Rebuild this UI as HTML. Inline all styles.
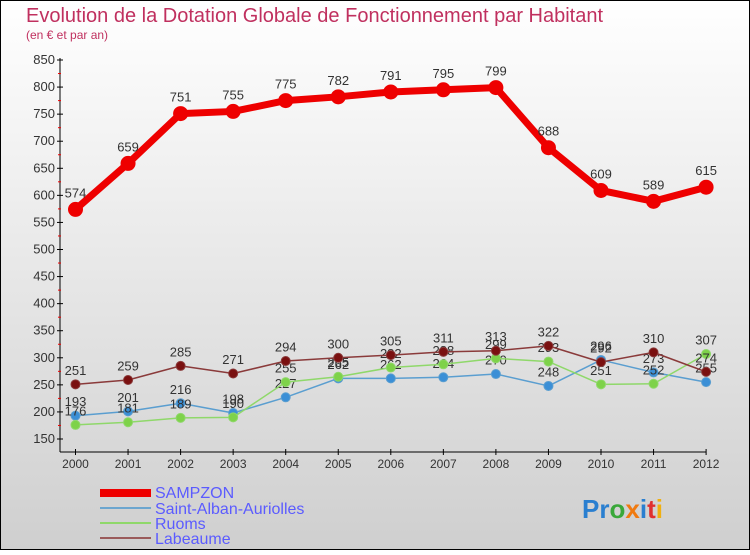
<!DOCTYPE html>
<html><head><meta charset="utf-8"><style>
body{margin:0}
svg text{font-family:"Liberation Sans","DejaVu Sans",sans-serif}
</style></head><body>
<svg id="c" width="750" height="550" xmlns="http://www.w3.org/2000/svg">
<defs><linearGradient id="bg" x1="0" y1="0" x2="0" y2="1"><stop offset="0" stop-color="#ffffff"/><stop offset="1" stop-color="#cfcfcf"/></linearGradient></defs>
<rect x="0.5" y="0.5" width="749" height="549" fill="url(#bg)" stroke="#000"/>
<text x="26" y="22" font-size="20" fill="#c0305f">Evolution de la Dotation Globale de Fonctionnement par Habitant</text>
<text x="26" y="39" font-size="12" fill="#c0305f">(en € et par an)</text>
<g id="axes"></g><g id="series"></g>
<g>
<rect x="100" y="489" width="51" height="8" fill="#e00"/>
<text x="155" y="498" font-size="16" fill="#5b5bff">SAMPZON</text>
<line x1="100" y1="508" x2="151" y2="508" stroke="#6ca6cf" stroke-width="2"/>
<text x="155" y="514" font-size="16" fill="#5b5bff">Saint-Alban-Auriolles</text>
<line x1="100" y1="523" x2="151" y2="523" stroke="#8fd86a" stroke-width="2"/>
<text x="155" y="529" font-size="16" fill="#5b5bff">Ruoms</text>
<line x1="100" y1="538" x2="151" y2="538" stroke="#9a5a5a" stroke-width="2"/>
<text x="155" y="544" font-size="16" fill="#5b5bff">Labeaume</text>
</g>
<text x="582" y="518" font-size="26" font-weight="bold"><tspan fill="#2a7fd0">Pr</tspan><tspan fill="#3aa83a">o</tspan><tspan fill="#f07a10">x</tspan><tspan fill="#2a7fd0">i</tspan><tspan fill="#e03030">t</tspan><tspan fill="#f0b010">i</tspan></text>
</svg>
<script>
const years=[2000,2001,2002,2003,2004,2005,2006,2007,2008,2009,2010,2011,2012];
const sampzon=[574,659,751,755,775,782,791,795,799,688,609,589,615];
const saintAlban=[193,201,216,198,227,262,262,264,270,248,296,273,255];
const ruoms=[176,181,189,190,255,265,282,288,299,293,251,252,307];
const labeaume=[251,259,285,271,294,300,305,311,313,322,292,310,274];
const yTicks=[150,200,250,300,350,400,450,500,550,600,650,700,750,800,850];
const NS="http://www.w3.org/2000/svg";
const xS=i=>75.5+i*52.55;
const yS=v=>439-(v-150)*379/700;
function mk(t,a,p){const e=document.createElementNS(NS,t);for(const k in a)e.setAttribute(k,a[k]);p.appendChild(e);return e;}
const ax=document.getElementById('axes');
let l=mk('line',{x1:60,y1:58,x2:60,y2:452,stroke:'#000'},ax);


l=mk('line',{x1:60,y1:452,x2:706,y2:452,stroke:'#000'},ax);


yTicks.forEach((v,i)=>{
 mk('line',{x1:57,y1:yS(v),x2:63,y2:yS(v),stroke:'#000'},ax);
 if(i<yTicks.length-1) mk('line',{x1:58,y1:yS(v+25),x2:61,y2:yS(v+25),stroke:'#e00'},ax);
 const t=mk('text',{x:55,y:yS(v)+4,'font-size':13,fill:'#333','text-anchor':'end'},ax);
 t.textContent=v;
 
 
});
years.forEach((y,i)=>{
 mk('line',{x1:xS(i),y1:449,x2:xS(i),y2:455,stroke:'#000'},ax);
 const t=mk('text',{x:xS(i),y:468,'font-size':12,fill:'#333','text-anchor':'middle'},ax);
 t.textContent=y;
 
 
});
const sg=document.getElementById('series');
function draw(data,name,color,w,r,fill){
 const g=mk('g',{},sg);
 
 
 mk('polyline',{points:data.map((v,i)=>xS(i)+','+yS(v)).join(' '),fill:'none',stroke:color,'stroke-width':w,'stroke-linejoin':'round'},g);
 data.forEach((v,i)=>{
  const c=mk('circle',{cx:xS(i),cy:yS(v),r:r,fill:fill,stroke:color,'stroke-width':1},g);
  
  
  const t=mk('text',{x:xS(i),y:yS(v)-(r+5),'font-size':13,fill:'#333','text-anchor':'middle'},g);
  t.textContent=v;
  
  
 });
}
draw(saintAlban,'saint-alban','#5a9ed0',1.5,4.5,'#3b8fd6');
draw(ruoms,'ruoms','#8fd86a',1.5,4.5,'#7ed24a');
draw(labeaume,'labeaume','#8a3a3a',1.5,4.5,'#7a1010');
draw(sampzon,'sampzon','#e00',7,7,'#e00');
</script>
</body></html>
